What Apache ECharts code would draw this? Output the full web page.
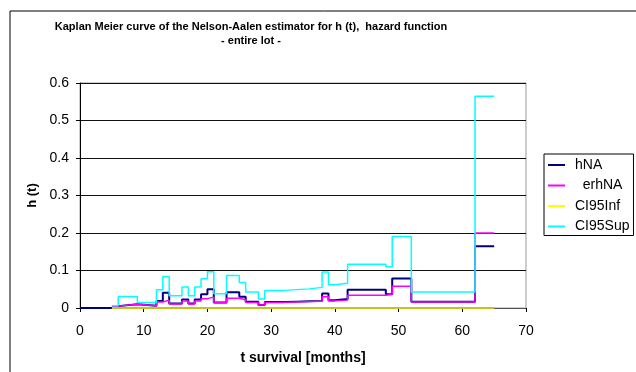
<!DOCTYPE html>
<html>
<head>
<meta charset="utf-8">
<script src="https://cdn.jsdelivr.net/npm/echarts@6/dist/echarts.min.js"></script>
<style>
  html, body { margin: 0; padding: 0; background: #fff; }
  #chart { width: 636px; height: 372px; }
</style>
</head>
<body>
<div id="chart"></div>
<script>
// Step times (months); each value holds from its time to the next one
const times = [0, 5, 6, 9, 12, 13, 14, 16, 17, 18, 19, 20, 21, 23, 25, 26, 28, 29, 32, 34, 36, 38, 39, 40, 42, 48, 49, 52, 62, 65];

// Nelson-Aalen hazard estimate
const hNA = [0, 0.005, 0.01, 0.006, 0.019, 0.041, 0.012, 0.023, 0.012, 0.023, 0.037, 0.05, 0.015, 0.042, 0.03, 0.017, 0.008, 0.016, 0.017, 0.018, 0.019, 0.039, 0.021, 0.024, 0.049, 0.037, 0.079, 0.017, 0.165, 0.165];
// Error on the estimate
const erhNA = [null, 0.005, 0.01, 0.006, 0.016, 0.021, 0.011, 0.019, 0.011, 0.019, 0.025, 0.029, 0.014, 0.026, 0.022, 0.015, 0.008, 0.015, 0.016, 0.017, 0.018, 0.03, 0.019, 0.021, 0.034, 0.037, 0.058, 0.016, 0.2, 0.2];
// 95% confidence bounds
const ci95Inf = [null, 0, 0, 0, 0, 0, 0, 0, 0, 0, 0, 0, 0, 0, 0, 0, 0, 0, 0, 0, 0, 0, 0, 0, 0, 0, 0, 0, 0, 0];
const ci95Sup = [null, 0.006, 0.031, 0.015, 0.049, 0.084, 0.033, 0.056, 0.033, 0.056, 0.078, 0.097, 0.038, 0.087, 0.068, 0.043, 0.024, 0.047, 0.049, 0.051, 0.055, 0.096, 0.062, 0.066, 0.117, 0.11, 0.191, 0.043, 0.565, 0.565];

const xTicks = [0, 10, 20, 30, 40, 50, 60, 70];
const yTicks = [0, 0.1, 0.2, 0.3, 0.4, 0.5, 0.6];

function pairs(values) {
  const out = [];
  values.forEach((v, i) => { if (v !== null) out.push([times[i], v]); });
  return out;
}

const FONT = '"Liberation Sans", Arial, sans-serif';

function stepSeries(name, values, color, width, z) {
  return {
    name: name,
    type: 'line',
    step: 'end',
    data: pairs(values),
    symbol: 'none',
    clip: false,
    z: z,
    lineStyle: { color: color, width: width },
    itemStyle: { color: color }
  };
}

const chart = echarts.init(document.getElementById('chart'), null, { renderer: 'canvas' });
chart.setOption({
  animation: false,
  backgroundColor: '#ffffff',
  textStyle: { fontFamily: FONT },
  graphic: [
    {
      type: 'rect',
      shape: { x: 10, y: 11, width: 640, height: 370 },
      style: { fill: 'none', stroke: '#000', lineWidth: 1 },
      silent: true, z: -1
    },
    {
      type: 'text',
      x: 251, y: 20,
      style: {
        text: 'Kaplan Meier curve of the Nelson-Aalen estimator for h (t),  hazard function\n- entire lot -',
        align: 'center', verticalAlign: 'top',
        font: 'bold 11px ' + FONT, fill: '#000', lineHeight: 14
      }
    }
  ],
  legend: {
    orient: 'vertical',
    left: 544, top: 154,
    padding: [4, 4, 2, 4],
    borderColor: '#000', borderWidth: 1, borderRadius: 0,
    backgroundColor: '#fff',
    itemWidth: 17, itemHeight: 2, itemGap: 6.5,
    textStyle: { fontFamily: FONT, fontSize: 14, color: '#000', padding: [0, 0, 0, 5] },
    formatter: function (name) { return name === 'erhNA' ? '  erhNA' : name; },
    data: [
      { name: 'hNA', icon: 'rect', itemStyle: { color: '#000080' } },
      { name: 'erhNA', icon: 'rect', itemStyle: { color: '#ff00ff' } },
      { name: 'CI95Inf', icon: 'rect', itemStyle: { color: '#ffff00' } },
      { name: 'CI95Sup', icon: 'rect', itemStyle: { color: '#00ffff' } }
    ]
  },
  grid: { left: 80, right: 110, top: 83, bottom: 64, show: true, borderColor: '#9a9a9a', borderWidth: 1, backgroundColor: '#fff' },
  xAxis: {
    type: 'value', min: 0, max: 70, interval: 10,
    name: 't survival [months]', nameLocation: 'middle', nameGap: 43,
    nameTextStyle: { fontFamily: FONT, fontSize: 14, fontWeight: 'bold', color: '#000' },
    axisLine: { show: true, onZero: false, lineStyle: { color: '#555', width: 1 } },
    axisTick: { show: true, inside: false, length: 4, lineStyle: { color: '#000' } },
    axisLabel: { fontFamily: FONT, fontSize: 14, color: '#000', margin: 16,
      formatter: function (v) { return xTicks.indexOf(v) >= 0 ? String(v) : ''; } },
    splitLine: { show: false }
  },
  yAxis: {
    type: 'value', min: 0, max: 0.6, interval: 0.1,
    name: 'h (t)', nameLocation: 'middle', nameGap: 40, nameRotate: 90,
    nameTextStyle: { fontFamily: FONT, fontSize: 13, fontWeight: 'bold', color: '#000' },
    axisLine: { show: true, lineStyle: { color: '#000', width: 1 } },
    axisTick: { show: true, inside: false, length: 4, lineStyle: { color: '#000' } },
    axisLabel: { fontFamily: FONT, fontSize: 14, color: '#000', margin: 11,
      formatter: function (v) {
        const r = Math.round(v * 10) / 10;
        return yTicks.indexOf(r) >= 0 ? String(r) : '';
      } },
    splitLine: { show: true, lineStyle: { color: '#111', width: 1 } }
  },
  series: [
    stepSeries('hNA', hNA, '#000080', 2, 3),
    stepSeries('erhNA', erhNA, '#ff00ff', 1.5, 4),
    stepSeries('CI95Inf', ci95Inf, '#c4c418', 2, 5),
    stepSeries('CI95Sup', ci95Sup, '#00ffff', 1.5, 6)
  ]
});
</script>
</body>
</html>
